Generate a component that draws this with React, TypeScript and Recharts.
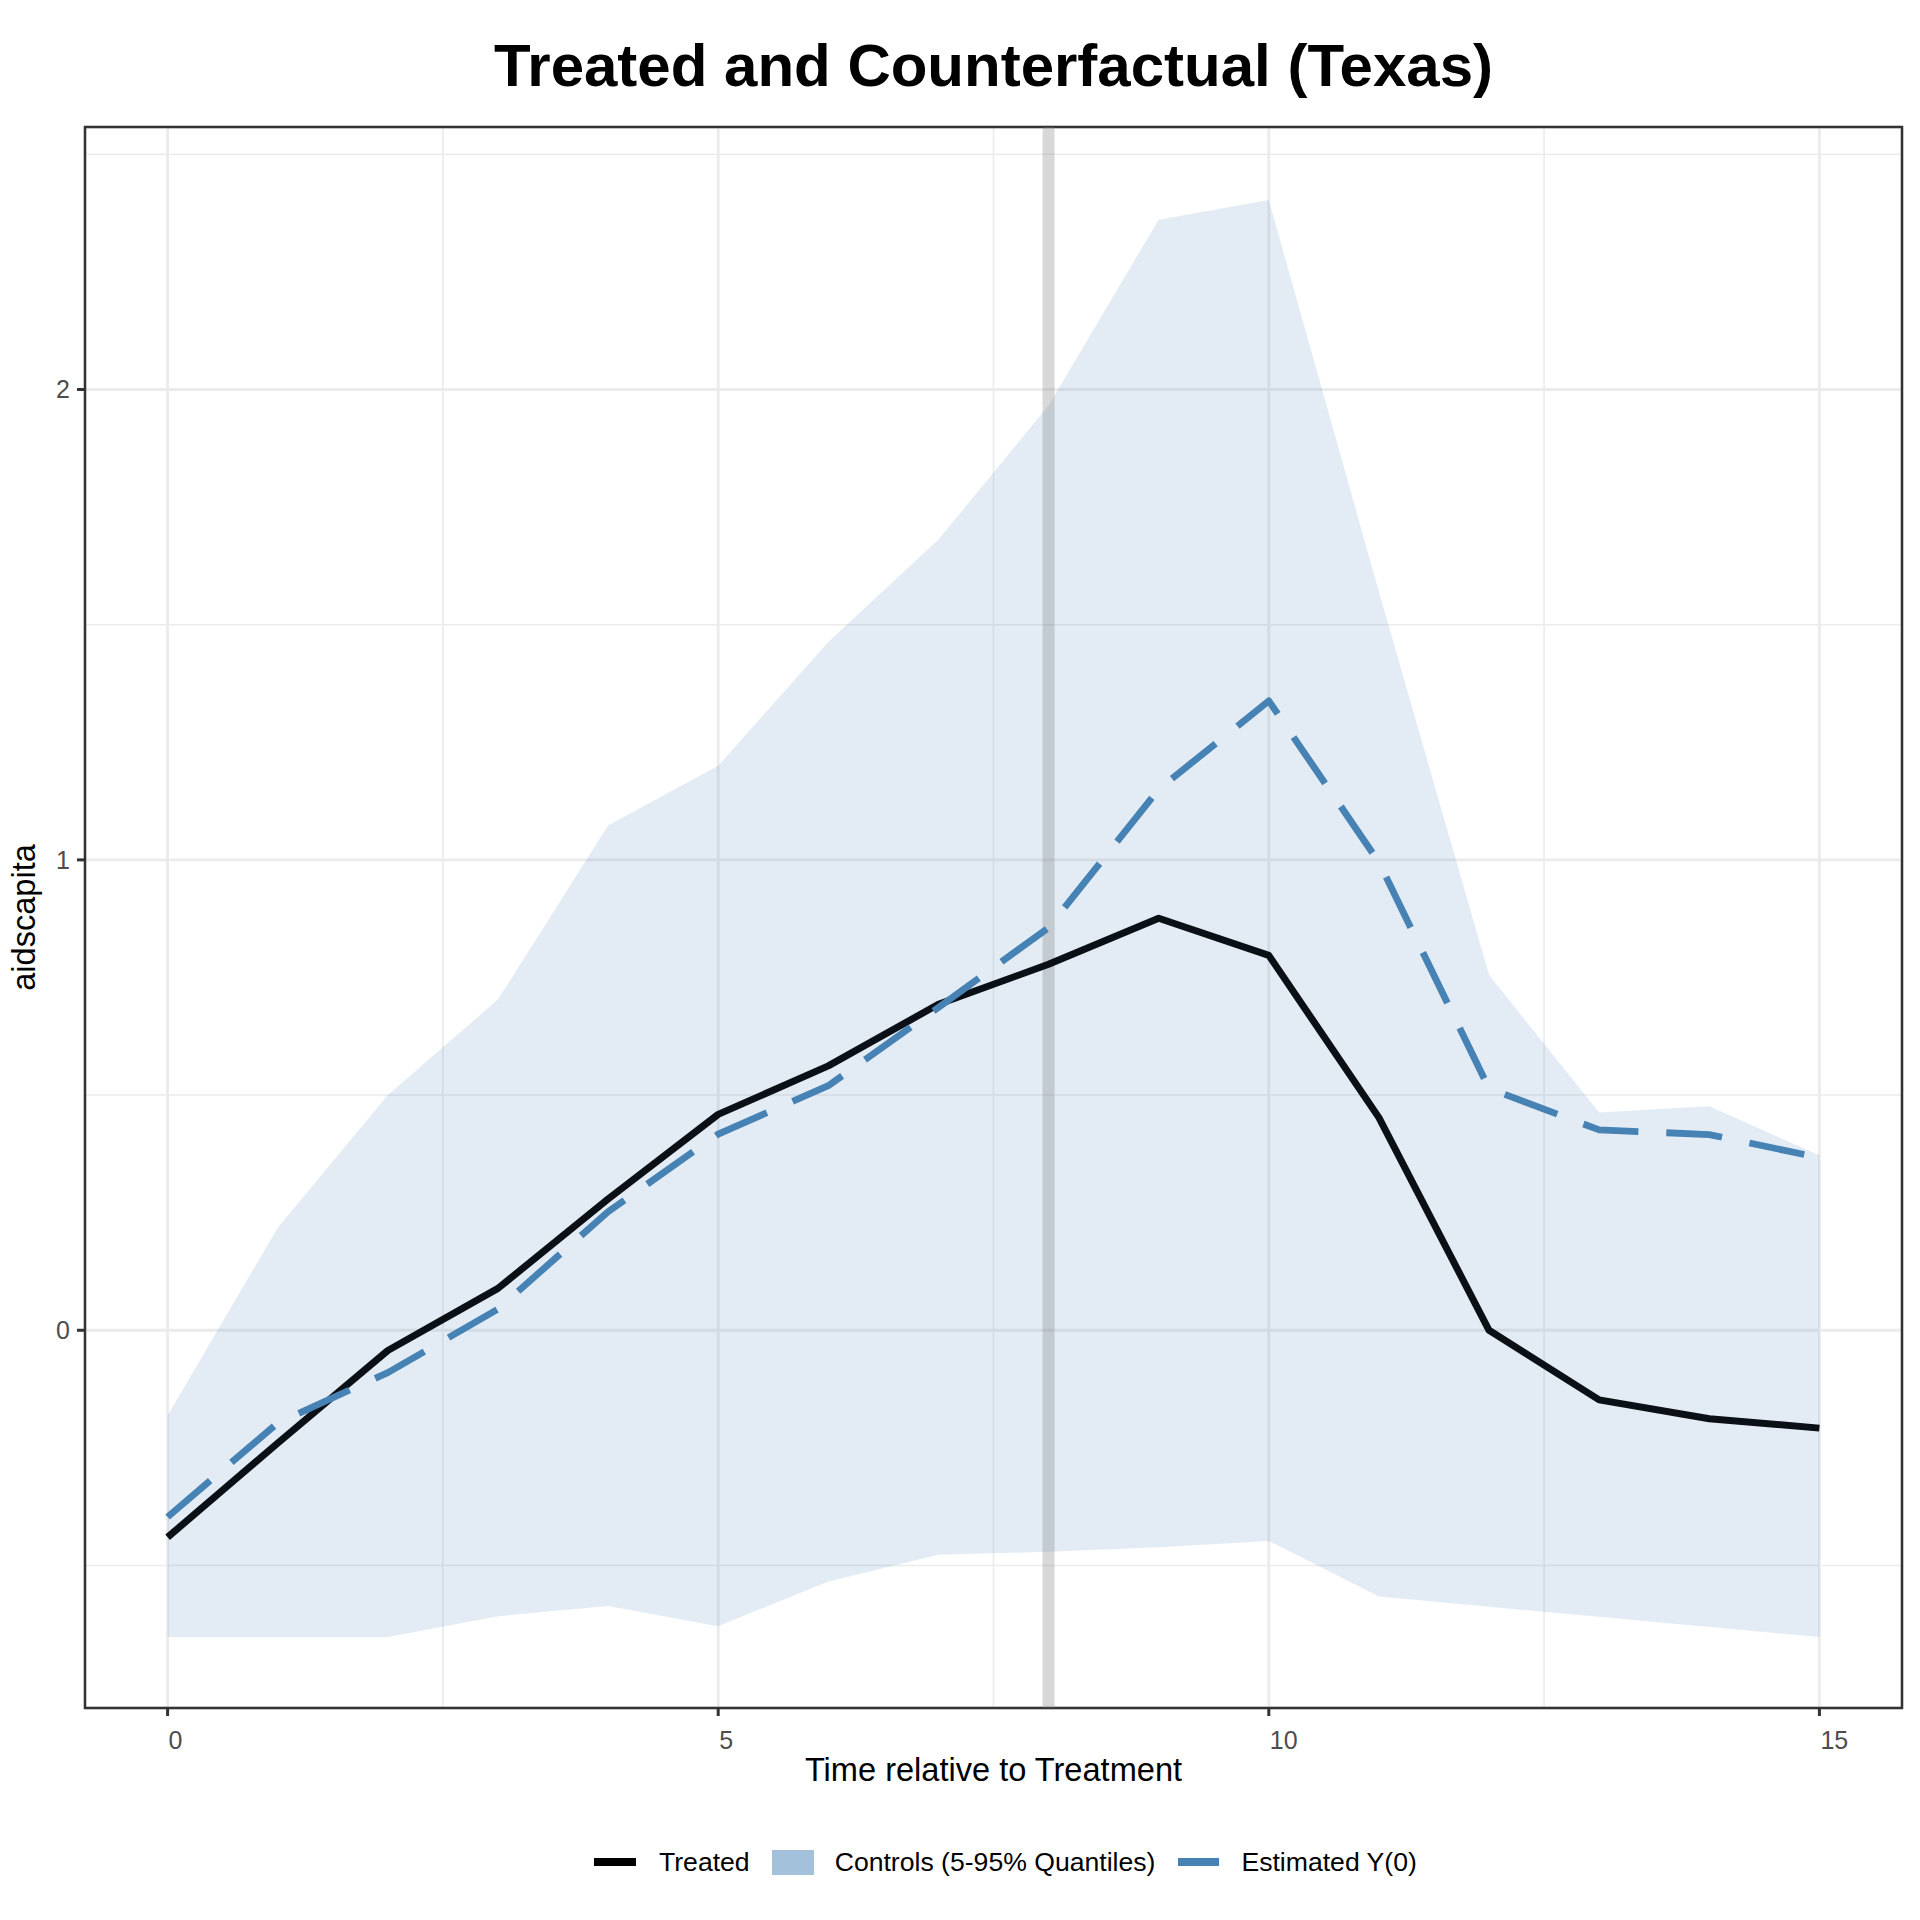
import React from "react";
import {
  ComposedChart,
  Area,
  Line,
  XAxis,
  YAxis,
  CartesianGrid,
  ReferenceLine,
  ReferenceArea,
  Legend,
} from "recharts";

// time relative to treatment
const periods = [0, 1, 2, 3, 4, 5, 6, 7, 8, 9, 10, 11, 12, 13, 14, 15];
const treated = [-0.44, -0.24, -0.043, 0.089, 0.279, 0.459, 0.562, 0.693, 0.778, 0.876, 0.797, 0.452, 0.0, -0.148, -0.188, -0.208];
const estimatedY0 = [-0.397, -0.197, -0.09, 0.045, 0.252, 0.417, 0.52, 0.686, 0.856, 1.15, 1.338, 0.995, 0.514, 0.426, 0.416, 0.367];
const controlsLow = [-0.652, -0.652, -0.652, -0.608, -0.586, -0.629, -0.534, -0.477, -0.471, -0.461, -0.448, -0.566, -0.588, -0.609, -0.631, -0.652];
const controlsHigh = [-0.181, 0.218, 0.5, 0.703, 1.073, 1.2, 1.463, 1.681, 1.966, 2.361, 2.403, 1.57, 0.755, 0.463, 0.476, 0.372];

const xTicks = [0, 5, 10, 15];
const yTicks = [0, 1, 2];
const xMinor = [2.5, 7.5, 12.5];
const yMinor = [-0.5, 0.5, 1.5, 2.5];
const xDomain = [-0.75, 15.75];
const yDomain = [-0.803, 2.558];
const treatmentTime = 8;

const FONT = '"Liberation Sans", Arial, Helvetica, sans-serif';
const STEEL = "#4682b4";
const INK = "#0b1016";

const data = periods.map((t, i) => ({
  t,
  treated: treated[i],
  est: estimatedY0[i],
  band: [controlsLow[i], controlsHigh[i]],
}));

const XTick = (props: any) => {
  const { x, y, payload } = props;
  return (
    <text x={x + 1} y={y + 31} textAnchor="start" fontSize={25} fill="#4d4d4d">
      {payload.value}
    </text>
  );
};

const XTitle = (props: any) => {
  const vb = props.viewBox || { x: 85, y: 1708, width: 1817, height: 124 };
  return (
    <text x={vb.x + vb.width / 2} y={vb.y + 73} textAnchor="middle" fontSize={32.6} fill="#000">
      Time relative to Treatment
    </text>
  );
};

const YTitle = (props: any) => {
  const vb = props.viewBox || { x: 0, y: 127, width: 85, height: 1581 };
  const cx = vb.x + 35;
  const cy = vb.y + vb.height / 2;
  return (
    <text x={cx} y={cy} transform={`rotate(-90 ${cx} ${cy})`} textAnchor="middle" fontSize={32.6} fill="#000">
      aidscapita
    </text>
  );
};

const legendText: React.CSSProperties = { fontSize: 26.6, lineHeight: "26px", color: "#000", whiteSpace: "nowrap" };

const renderLegend = () => (
  <div style={{ height: 60, display: "flex", alignItems: "center", paddingLeft: 594, fontFamily: FONT }}>
    <div style={{ width: 42, height: 8, background: "#000", marginRight: 23 }} />
    <span style={{ ...legendText, marginRight: 22 }}>Treated</span>
    <div style={{ width: 42, height: 25, background: "#a3c1da", marginRight: 21 }} />
    <span style={{ ...legendText, marginRight: 23 }}>Controls (5-95% Quantiles)</span>
    <div style={{ width: 41, height: 8, background: STEEL, marginRight: 22 }} />
    <span style={legendText}>Estimated Y(0)</span>
  </div>
);

export default function App() {
  return (
    <div
      style={{
        position: "absolute",
        left: 0,
        top: 0,
        width: 1920,
        height: 1920,
        background: "#fff",
        fontFamily: FONT,
      }}
    >
      <div
        style={{
          position: "absolute",
          left: 85,
          width: 1817,
          top: 36,
          textAlign: "center",
          fontSize: 60,
          lineHeight: "60px",
          fontWeight: 700,
          color: "#000",
          whiteSpace: "nowrap",
        }}
      >
        Treated and Counterfactual (Texas)
      </div>
      <ComposedChart
        width={1920}
        height={1920}
        data={data}
        margin={{ top: 127, right: 18, bottom: 28, left: 0 }}
      >
        <CartesianGrid stroke="#ebebeb" strokeWidth={2.8} />
        <CartesianGrid
          stroke="#ebebeb"
          strokeWidth={1.6}
          horizontalValues={yMinor}
          verticalValues={xMinor}
        />
        <XAxis
          type="number"
          dataKey="t"
          domain={xDomain}
          ticks={xTicks}
          interval={0}
          allowDataOverflow
          axisLine={false}
          tickLine={{ stroke: "#333333", strokeWidth: 3 }}
          tickSize={8}
          tick={XTick}
          height={124}
          label={{ content: XTitle }}
        />
        <YAxis
          type="number"
          domain={yDomain}
          ticks={yTicks}
          interval={0}
          allowDataOverflow
          axisLine={false}
          tickLine={{ stroke: "#333333", strokeWidth: 3 }}
          tickSize={8}
          tickMargin={7}
          tick={{ fontSize: 25, fill: "#4d4d4d" }}
          width={85}
          label={{ content: YTitle }}
        />
        <Area
          type="linear"
          dataKey={(d: any) => d.band}
          stroke="none"
          fill={STEEL}
          fillOpacity={0.15}
          isAnimationActive={false}
          legendType="none"
        />
        <ReferenceLine
          x={treatmentTime}
          stroke="#7f7f7f"
          strokeOpacity={0.3}
          strokeWidth={12}
        />
        <Line
          type="linear"
          dataKey="treated"
          stroke={INK}
          strokeWidth={7}
          strokeLinejoin="round"
          dot={false}
          activeDot={false}
          isAnimationActive={false}
        />
        <Line
          type="linear"
          dataKey="est"
          stroke={STEEL}
          strokeWidth={6.8}
          strokeDasharray="56 28"
          strokeLinejoin="round"
          dot={false}
          activeDot={false}
          isAnimationActive={false}
        />
        <ReferenceArea
          x1={xDomain[0]}
          x2={xDomain[1]}
          y1={yDomain[0]}
          y2={yDomain[1]}
          fill="none"
          stroke="#333333"
          strokeWidth={2.5}
          ifOverflow="visible"
        />
        <Legend verticalAlign="bottom" height={60} content={renderLegend} />
      </ComposedChart>
    </div>
  );
}
